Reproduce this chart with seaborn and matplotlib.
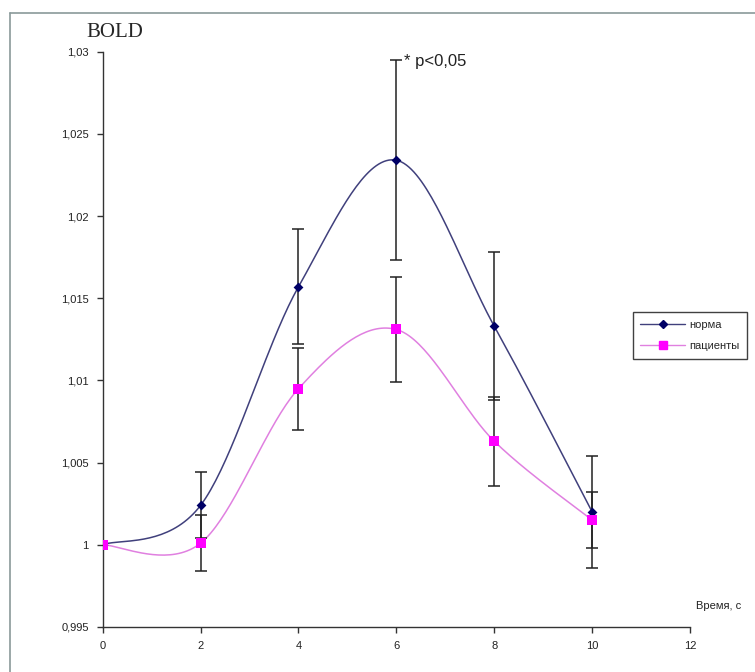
import numpy as np
import pandas as pd
import matplotlib
matplotlib.use("Agg")
import matplotlib.pyplot as plt
from matplotlib.ticker import FuncFormatter
from matplotlib.lines import Line2D
import seaborn as sns

# Time points, s
time_s = [0, 2, 4, 6, 8, 10]
# Mean BOLD signal and its spread for each group
norm_bold = [1.0, 1.0024, 1.0157, 1.0234, 1.0133, 1.0020]
norm_err = [0.0, 0.0020, 0.0035, 0.0061, 0.0045, 0.0034]
patient_bold = [1.0, 1.0001, 1.0095, 1.0131, 1.0063, 1.0015]
patient_err = [0.0, 0.0017, 0.0025, 0.0032, 0.0027, 0.0017]
series_names = ["норма", "пациенты"]
y_ticks = [0.995, 1.0, 1.005, 1.01, 1.015, 1.02, 1.025, 1.03]
x_ticks = [0, 2, 4, 6, 8, 10, 12]


def smooth_curve(x, y, steps=40):
    """Cardinal (Catmull-Rom) spline through the points, as spreadsheet charts draw it."""
    x = np.asarray(x, float)
    y = np.asarray(y, float)
    px = np.concatenate([[x[0]], x, [x[-1]]])
    py = np.concatenate([[y[0]], y, [y[-1]]])
    xs, ys = [], []
    t = np.linspace(0, 1, steps)
    for i in range(1, len(px) - 2):
        p0x, p1x, p2x, p3x = px[i - 1], px[i], px[i + 1], px[i + 2]
        p0y, p1y, p2y, p3y = py[i - 1], py[i], py[i + 1], py[i + 2]
        c1x, c1y = p1x + (p2x - p0x) / 6, p1y + (p2y - p0y) / 6
        c2x, c2y = p2x - (p3x - p1x) / 6, p2y - (p3y - p1y) / 6
        bx = (1 - t) ** 3 * p1x + 3 * (1 - t) ** 2 * t * c1x + 3 * (1 - t) * t ** 2 * c2x + t ** 3 * p2x
        by = (1 - t) ** 3 * p1y + 3 * (1 - t) ** 2 * t * c1y + 3 * (1 - t) * t ** 2 * c2y + t ** 3 * p2y
        xs.extend(bx[:-1] if i < len(px) - 3 else bx)
        ys.extend(by[:-1] if i < len(px) - 3 else by)
    return np.array(xs), np.array(ys)


sns.set_theme(style="white")
plt.rcParams["font.family"] = ["Liberation Sans", "DejaVu Sans"]

fig = plt.figure(figsize=(7.55, 6.72), dpi=100)
ax = fig.add_axes([0.136, 0.067, 0.778, 0.856])

styles = [
    dict(name=series_names[0], y=norm_bold, err=norm_err, line="#40407c", marker="D", mcolor="#000066", ms=5),
    dict(name=series_names[1], y=patient_bold, err=patient_err, line="#e080e0", marker="s", mcolor="#ff00ff", ms=7),
]

for s in styles:
    cx, cy = smooth_curve(time_s, s["y"])
    curve = pd.DataFrame({"t": cx, "v": cy})
    sns.lineplot(data=curve, x="t", y="v", ax=ax, color=s["line"], lw=1.1, sort=False, estimator=None)
    ax.errorbar(time_s[1:], s["y"][1:], yerr=s["err"][1:], fmt="none", ecolor="#222222",
                elinewidth=1.1, capsize=4, capthick=1.1, zorder=3)
    pts = pd.DataFrame({"t": time_s, "v": s["y"]})
    sns.scatterplot(data=pts, x="t", y="v", ax=ax, marker=s["marker"], color=s["mcolor"],
                    s=s["ms"] ** 2, edgecolor=s["mcolor"], linewidth=0, zorder=4)

ax.set_xlim(0, 12)
ax.set_ylim(0.995, 1.03)
ax.set_xticks(x_ticks)
ax.set_yticks(y_ticks)
comma = FuncFormatter(lambda v, p: f"{v:g}".replace(".", ","))
ax.xaxis.set_major_formatter(comma)
ax.yaxis.set_major_formatter(comma)
ax.set_xlabel("")
ax.set_ylabel("")
for side in ("top", "right"):
    ax.spines[side].set_visible(False)
for side in ("left", "bottom"):
    ax.spines[side].set_color("#333333")
    ax.spines[side].set_linewidth(1.0)
ax.tick_params(axis="both", which="major", direction="out", length=4, width=1,
               color="#333333", labelsize=8, labelcolor="#222222", pad=6)
ax.tick_params(axis="x", bottom=True)
ax.tick_params(axis="y", left=True)

fig.text(0.115, 0.952, "BOLD", fontsize=15,
         family=["Liberation Serif", "DejaVu Serif"], ha="left", va="center")
ax.text(6.15, 1.0294, "* p<0,05", fontsize=12, ha="left", va="center", color="#222222")
fig.text(0.922, 0.098, "Время, с", fontsize=8, ha="left", va="center", color="#222222")

handles = [
    Line2D([0], [0], color=styles[0]["line"], marker="D", markersize=4,
           markerfacecolor=styles[0]["mcolor"], markeredgecolor=styles[0]["mcolor"], lw=1),
    Line2D([0], [0], color=styles[1]["line"], marker="s", markersize=6,
           markerfacecolor=styles[1]["mcolor"], markeredgecolor=styles[1]["mcolor"], lw=1),
]
leg = fig.legend(handles, series_names, loc="upper left", bbox_to_anchor=(0.838, 0.535),
                 fontsize=8, frameon=True, fancybox=False, handlelength=4.0,
                 borderpad=0.7, labelspacing=1.0, handletextpad=0.4, borderaxespad=0.0)
leg.get_frame().set_edgecolor("#111111")
leg.get_frame().set_linewidth(1.0)

# Outer chart border at top and left
fig.add_artist(Line2D([0.013, 1.0], [0.981, 0.981], transform=fig.transFigure, color="#8a9a9a", lw=1.2))
fig.add_artist(Line2D([0.013, 0.013], [0.0, 0.981], transform=fig.transFigure, color="#8a9a9a", lw=1.2))

fig.savefig("out.png", dpi=100)
